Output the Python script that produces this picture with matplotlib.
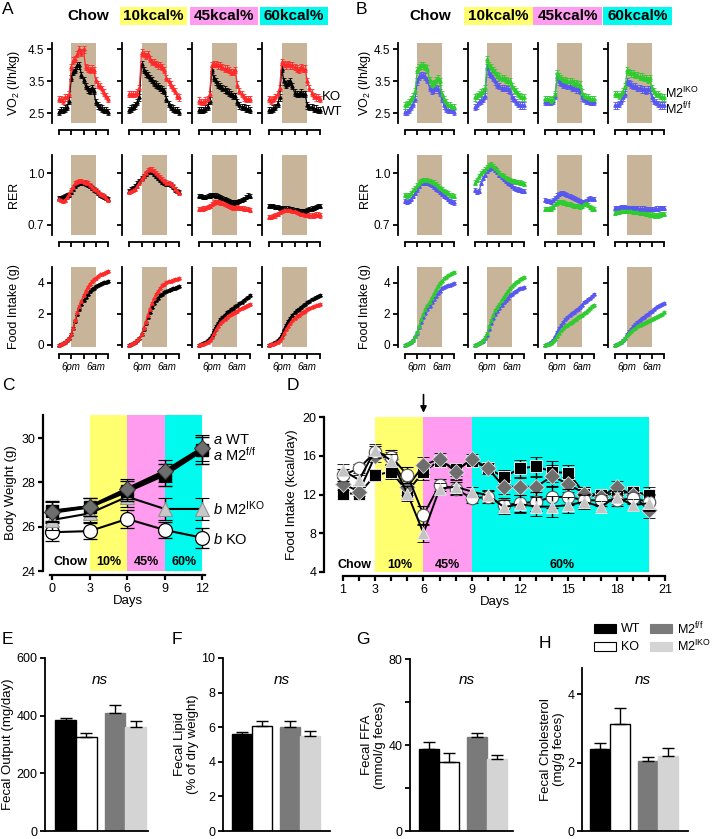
import matplotlib
matplotlib.use('Agg')
import matplotlib.pyplot as plt
from matplotlib.patches import Rectangle
from matplotlib.ticker import FixedLocator

plt.rcParams['font.family'] = ['Liberation Sans', 'DejaVu Sans']
plt.rcParams['mathtext.fontset'] = 'custom'
plt.rcParams['mathtext.rm'] = 'Liberation Sans'
plt.rcParams['mathtext.it'] = 'Liberation Sans:italic'

# ---------------- data ----------------
HOURS = list(range(12, 37))           # 12pm .. 12pm next day
DIETS = ['Chow', '10kcal%', '45kcal%', '60kcal%']
DIET_SHORT = ['Chow', '10%', '45%', '60%']

# Panel A : WT (black) vs KO (red)
A_VO2_KO = [
    [2.95, 2.95, 2.9, 3.0, 3.0, 3.1, 3.95, 4.15, 4.2, 4.35, 4.5, 4.4, 4.5, 3.95, 3.9, 3.85, 3.9, 3.85, 3.55, 3.4, 3.35, 3.25, 3.15, 3.05, 2.95],
    [3.1, 3.1, 3.1, 3.1, 3.15, 3.3, 4.4, 4.35, 4.3, 4.35, 4.2, 4.1, 4.1, 4.05, 4.0, 4.0, 3.95, 3.85, 3.6, 3.5, 3.4, 3.3, 3.2, 3.05, 3.0],
    [2.9, 2.85, 2.85, 2.9, 2.95, 3.1, 4.0, 4.05, 4.05, 4.0, 4.0, 3.95, 3.9, 3.9, 3.85, 3.8, 3.8, 3.85, 3.4, 3.2, 3.1, 3.0, 2.95, 2.95, 2.95],
    [2.95, 2.9, 2.95, 3.0, 3.1, 3.3, 4.1, 4.05, 4.0, 4.05, 4.0, 4.0, 3.95, 3.9, 3.85, 3.95, 3.9, 3.9, 3.5, 3.3, 3.15, 3.05, 3.0, 3.0, 2.95],
]
A_VO2_WT = [
    [2.55, 2.6, 2.6, 2.65, 2.7, 2.9, 3.6, 3.8, 3.85, 4.0, 4.0, 3.7, 3.55, 3.35, 3.25, 3.2, 3.3, 3.2, 2.85, 2.75, 2.7, 2.65, 2.6, 2.6, 2.55],
    [2.6, 2.65, 2.7, 2.75, 2.85, 3.0, 4.05, 3.85, 3.75, 3.7, 3.6, 3.55, 3.45, 3.4, 3.35, 3.3, 3.25, 3.2, 2.95, 2.8, 2.7, 2.65, 2.6, 2.6, 2.55],
    [2.6, 2.6, 2.6, 2.65, 2.7, 2.9, 3.85, 3.6, 3.5, 3.4, 3.35, 3.3, 3.25, 3.2, 3.15, 3.1, 3.05, 3.05, 2.85, 2.75, 2.7, 2.7, 2.65, 2.65, 2.6],
    [2.6, 2.6, 2.65, 2.7, 2.8, 3.0, 3.9, 3.5, 3.4, 3.45, 3.5, 3.35, 3.15, 3.1, 3.1, 3.15, 3.1, 3.1, 2.75, 2.7, 2.7, 2.65, 2.65, 2.6, 2.6],
]
A_RER_KO = [
    [0.85, 0.845, 0.84, 0.845, 0.86, 0.88, 0.90, 0.92, 0.94, 0.95, 0.955, 0.955, 0.95, 0.945, 0.94, 0.93, 0.92, 0.91, 0.90, 0.89, 0.88, 0.875, 0.865, 0.855, 0.845],
    [0.89, 0.895, 0.90, 0.91, 0.925, 0.945, 0.965, 0.985, 1.0, 1.015, 1.025, 1.02, 1.01, 1.0, 0.99, 0.975, 0.965, 0.955, 0.945, 0.94, 0.935, 0.925, 0.91, 0.895, 0.885],
    [0.79, 0.79, 0.795, 0.80, 0.805, 0.81, 0.82, 0.83, 0.835, 0.835, 0.83, 0.825, 0.82, 0.815, 0.81, 0.805, 0.80, 0.80, 0.805, 0.80, 0.80, 0.795, 0.79, 0.79, 0.785],
    [0.745, 0.745, 0.75, 0.755, 0.765, 0.775, 0.78, 0.785, 0.785, 0.785, 0.785, 0.78, 0.78, 0.775, 0.77, 0.765, 0.765, 0.76, 0.76, 0.755, 0.755, 0.755, 0.76, 0.76, 0.755],
]
A_RER_WT = [
    [0.855, 0.855, 0.86, 0.865, 0.87, 0.875, 0.89, 0.91, 0.925, 0.935, 0.94, 0.94, 0.94, 0.935, 0.93, 0.925, 0.915, 0.905, 0.895, 0.885, 0.875, 0.87, 0.86, 0.855, 0.85],
    [0.895, 0.905, 0.915, 0.925, 0.94, 0.955, 0.97, 0.985, 0.995, 1.005, 1.01, 1.005, 0.995, 0.985, 0.97, 0.96, 0.95, 0.94, 0.935, 0.935, 0.93, 0.92, 0.905, 0.895, 0.89],
    [0.865, 0.865, 0.86, 0.86, 0.865, 0.87, 0.875, 0.875, 0.87, 0.865, 0.86, 0.855, 0.85, 0.845, 0.84, 0.835, 0.83, 0.83, 0.835, 0.84, 0.845, 0.85, 0.86, 0.87, 0.865],
    [0.81, 0.81, 0.81, 0.805, 0.805, 0.80, 0.80, 0.80, 0.795, 0.795, 0.79, 0.79, 0.785, 0.785, 0.78, 0.78, 0.78, 0.78, 0.785, 0.79, 0.795, 0.80, 0.805, 0.81, 0.81],
]
A_FI_KO = [
    [0, 0.05, 0.1, 0.2, 0.3, 0.45, 0.7, 1.1, 1.6, 2.1, 2.5, 2.85, 3.2, 3.5, 3.75, 3.95, 4.1, 4.25, 4.35, 4.45, 4.55, 4.6, 4.65, 4.7, 4.75],
    [0, 0.05, 0.1, 0.2, 0.3, 0.45, 0.7, 1.1, 1.5, 1.95, 2.35, 2.7, 3.0, 3.3, 3.5, 3.7, 3.85, 3.95, 4.05, 4.1, 4.15, 4.2, 4.25, 4.28, 4.3],
    [0, 0.04, 0.08, 0.15, 0.22, 0.32, 0.5, 0.75, 1.0, 1.2, 1.4, 1.55, 1.7, 1.82, 1.92, 2.0, 2.08, 2.15, 2.22, 2.3, 2.38, 2.45, 2.52, 2.6, 2.65],
    [0, 0.04, 0.08, 0.15, 0.22, 0.32, 0.5, 0.75, 1.0, 1.25, 1.45, 1.6, 1.75, 1.85, 1.95, 2.05, 2.15, 2.22, 2.3, 2.37, 2.43, 2.5, 2.55, 2.6, 2.65],
]
A_FI_WT = [
    [0, 0.05, 0.1, 0.2, 0.3, 0.45, 0.7, 1.1, 1.55, 2.0, 2.35, 2.65, 2.9, 3.1, 3.3, 3.45, 3.6, 3.7, 3.8, 3.85, 3.95, 4.0, 4.05, 4.05, 4.1],
    [0, 0.05, 0.1, 0.2, 0.3, 0.45, 0.7, 1.05, 1.4, 1.8, 2.15, 2.45, 2.7, 2.9, 3.05, 3.2, 3.3, 3.4, 3.5, 3.55, 3.6, 3.65, 3.7, 3.75, 3.8],
    [0, 0.05, 0.12, 0.2, 0.3, 0.45, 0.65, 0.95, 1.2, 1.45, 1.65, 1.8, 1.95, 2.1, 2.2, 2.3, 2.4, 2.5, 2.6, 2.7, 2.8, 2.9, 3.0, 3.1, 3.2],
    [0, 0.05, 0.1, 0.2, 0.3, 0.45, 0.7, 1.0, 1.3, 1.55, 1.75, 1.95, 2.1, 2.25, 2.35, 2.45, 2.55, 2.65, 2.75, 2.85, 2.95, 3.0, 3.1, 3.15, 3.2],
]

# Panel B : M2f/f (blue) vs M2IKO (green)
B_VO2_IKO = [
    [2.75, 2.8, 2.85, 2.95, 3.05, 3.2, 3.85, 3.95, 4.0, 4.0, 3.95, 3.9, 3.55, 3.4, 3.45, 3.55, 3.6, 3.5, 3.1, 2.95, 2.85, 2.75, 2.75, 2.7, 2.7],
    [3.0, 3.05, 3.1, 3.15, 3.2, 3.3, 4.2, 4.0, 3.95, 3.85, 3.8, 3.7, 3.65, 3.6, 3.6, 3.55, 3.5, 3.5, 3.35, 3.25, 3.2, 3.1, 3.05, 3.0, 3.0],
    [2.95, 2.95, 2.95, 2.9, 2.95, 3.1, 3.75, 3.65, 3.6, 3.55, 3.55, 3.5, 3.5, 3.5, 3.45, 3.45, 3.4, 3.4, 3.15, 3.05, 3.0, 3.0, 2.95, 2.95, 2.95],
    [3.1, 3.1, 3.05, 3.1, 3.2, 3.35, 3.85, 3.8, 3.75, 3.75, 3.7, 3.7, 3.65, 3.65, 3.6, 3.6, 3.55, 3.6, 3.3, 3.2, 3.1, 3.1, 3.05, 3.0, 3.0],
]
B_VO2_FF = [
    [2.55, 2.55, 2.6, 2.7, 2.8, 2.95, 3.5, 3.65, 3.7, 3.7, 3.65, 3.55, 3.3, 3.2, 3.25, 3.3, 3.25, 3.15, 2.95, 2.75, 2.65, 2.6, 2.6, 2.6, 2.55],
    [2.7, 2.75, 2.85, 2.9, 2.95, 3.05, 3.95, 3.75, 3.7, 3.6, 3.5, 3.4, 3.35, 3.3, 3.3, 3.3, 3.25, 3.2, 3.0, 2.95, 2.85, 2.8, 2.75, 2.75, 2.75],
    [2.85, 2.85, 2.85, 2.85, 2.9, 3.05, 3.65, 3.5, 3.45, 3.4, 3.4, 3.35, 3.35, 3.3, 3.3, 3.25, 3.25, 3.2, 3.0, 2.95, 2.9, 2.9, 2.85, 2.85, 2.85],
    [2.75, 2.75, 2.8, 2.9, 3.0, 3.1, 3.5, 3.45, 3.4, 3.35, 3.35, 3.3, 3.3, 3.25, 3.25, 3.2, 3.25, 3.25, 3.0, 2.9, 2.85, 2.8, 2.75, 2.75, 2.75],
]
B_RER_IKO = [
    [0.875, 0.87, 0.875, 0.885, 0.9, 0.915, 0.93, 0.945, 0.955, 0.96, 0.96, 0.96, 0.955, 0.95, 0.945, 0.935, 0.925, 0.915, 0.905, 0.895, 0.89, 0.885, 0.875, 0.87, 0.865],
    [0.945, 0.96, 0.98, 1.0, 1.01, 1.02, 1.035, 1.045, 1.05, 1.04, 1.03, 1.015, 1.0, 0.99, 0.98, 0.97, 0.965, 0.96, 0.955, 0.955, 0.95, 0.95, 0.945, 0.94, 0.935],
    [0.79, 0.79, 0.79, 0.795, 0.805, 0.82, 0.83, 0.835, 0.835, 0.83, 0.825, 0.82, 0.82, 0.815, 0.81, 0.81, 0.81, 0.805, 0.81, 0.82, 0.825, 0.815, 0.805, 0.795, 0.79],
    [0.77, 0.775, 0.775, 0.78, 0.78, 0.78, 0.78, 0.78, 0.78, 0.775, 0.775, 0.775, 0.77, 0.77, 0.77, 0.765, 0.765, 0.76, 0.76, 0.755, 0.755, 0.755, 0.76, 0.765, 0.765],
]
B_RER_FF = [
    [0.84, 0.835, 0.84, 0.85, 0.865, 0.885, 0.905, 0.925, 0.94, 0.945, 0.945, 0.94, 0.935, 0.93, 0.92, 0.91, 0.9, 0.89, 0.88, 0.87, 0.86, 0.85, 0.84, 0.835, 0.83],
    [0.9, 0.89, 0.895, 0.94, 0.97, 0.99, 1.01, 1.025, 1.03, 1.03, 1.02, 1.005, 0.99, 0.975, 0.965, 0.955, 0.945, 0.935, 0.925, 0.915, 0.91, 0.905, 0.9, 0.895, 0.895],
    [0.845, 0.84, 0.84, 0.835, 0.845, 0.855, 0.87, 0.88, 0.885, 0.885, 0.88, 0.875, 0.865, 0.86, 0.855, 0.85, 0.845, 0.84, 0.835, 0.835, 0.84, 0.85, 0.855, 0.85, 0.85],
    [0.80, 0.80, 0.80, 0.805, 0.805, 0.805, 0.80, 0.80, 0.80, 0.80, 0.80, 0.80, 0.795, 0.795, 0.795, 0.79, 0.79, 0.79, 0.79, 0.79, 0.795, 0.795, 0.80, 0.80, 0.80],
]
B_FI_IKO = [
    [0, 0.05, 0.1, 0.2, 0.35, 0.55, 0.85, 1.25, 1.65, 2.0, 2.3, 2.55, 2.8, 3.05, 3.3, 3.55, 3.8, 4.0, 4.15, 4.3, 4.4, 4.5, 4.55, 4.62, 4.68],
    [0, 0.05, 0.1, 0.2, 0.32, 0.5, 0.75, 1.2, 1.6, 1.95, 2.25, 2.45, 2.65, 2.9, 3.1, 3.3, 3.5, 3.65, 3.8, 3.95, 4.05, 4.15, 4.25, 4.3, 4.38],
    [0, 0.04, 0.08, 0.15, 0.25, 0.38, 0.6, 0.8, 0.95, 1.1, 1.2, 1.3, 1.4, 1.5, 1.6, 1.7, 1.78, 1.85, 1.95, 2.05, 2.15, 2.25, 2.4, 2.5, 2.6],
    [0, 0.04, 0.1, 0.18, 0.3, 0.45, 0.65, 0.8, 0.92, 1.02, 1.12, 1.2, 1.28, 1.35, 1.42, 1.5, 1.55, 1.6, 1.68, 1.75, 1.82, 1.9, 1.96, 2.02, 2.1],
]
B_FI_FF = [
    [0, 0.05, 0.1, 0.2, 0.35, 0.55, 0.8, 1.15, 1.5, 1.8, 2.05, 2.3, 2.5, 2.75, 2.95, 3.15, 3.35, 3.5, 3.65, 3.75, 3.8, 3.85, 3.9, 3.95, 3.98],
    [0, 0.05, 0.1, 0.18, 0.28, 0.42, 0.65, 1.0, 1.4, 1.75, 2.0, 2.2, 2.4, 2.6, 2.75, 2.9, 3.05, 3.2, 3.3, 3.4, 3.5, 3.58, 3.65, 3.7, 3.75],
    [0, 0.05, 0.1, 0.2, 0.35, 0.55, 0.85, 1.1, 1.3, 1.5, 1.65, 1.8, 1.95, 2.05, 2.15, 2.25, 2.35, 2.45, 2.6, 2.75, 2.85, 2.95, 3.05, 3.15, 3.3],
    [0, 0.04, 0.1, 0.18, 0.3, 0.45, 0.7, 0.9, 1.05, 1.2, 1.35, 1.5, 1.62, 1.72, 1.82, 1.92, 2.02, 2.12, 2.22, 2.32, 2.42, 2.5, 2.58, 2.65, 2.7],
]
SEM_VO2 = 0.1
SEM_RER = 0.012
SEM_FI = 0.06

# Panel C : body weight
C_DAYS = [0, 3, 6, 9, 12]
C_WT = [26.7, 26.9, 27.6, 28.35, 29.45]
C_FF = [26.65, 26.9, 27.7, 28.5, 29.55]
C_IKO = [26.3, 26.6, 27.35, 26.8, 26.8]
C_KO = [25.75, 25.8, 26.35, 25.85, 25.5]
C_WT_ERR = [0.45, 0.4, 0.45, 0.5, 0.6]
C_FF_ERR = [0.45, 0.4, 0.45, 0.5, 0.6]
C_IKO_ERR = [0.45, 0.4, 0.45, 0.5, 0.5]
C_KO_ERR = [0.4, 0.35, 0.4, 0.35, 0.45]

# Panel D : daily food intake
D_DAYS = list(range(1, 21))
D_WT = [12.1, 12.1, 14.0, 14.35, 12.3, 14.35, 15.5, 14.6, 15.5, 14.7, 13.8, 14.7, 14.9, 14.35, 14.2, 12.1, 11.95, 12.1, 12.3, 11.95]
D_FF = [13.1, 12.3, 16.0, 15.7, 12.8, 15.0, 15.7, 14.35, 15.7, 14.7, 12.8, 12.8, 12.8, 13.9, 13.05, 12.1, 11.7, 12.8, 11.9, 10.4]
D_KO = [14.0, 14.7, 16.4, 15.9, 14.0, 9.9, 13.0, 12.6, 11.6, 11.75, 10.9, 11.1, 11.25, 11.75, 11.75, 11.4, 11.4, 11.4, 11.6, 11.25]
D_IKO = [14.5, 13.5, 16.6, 15.5, 12.1, 8.0, 12.6, 12.8, 12.3, 11.9, 10.7, 11.0, 10.75, 10.75, 10.9, 11.25, 10.75, 11.75, 10.9, 11.1]
D_ERR = [0.6, 0.5, 0.6, 0.7, 0.8, 0.9, 0.6, 0.7, 0.5, 0.6, 0.7, 0.9, 1.0, 1.1, 0.8, 0.7, 0.6, 0.6, 0.6, 0.8]

# Panels E-H : fecal measures (WT, KO, M2f/f, M2IKO)
GROUPS = ['WT', 'KO', 'M2$^{\\mathrm{f/f}}$', 'M2$^{\\mathrm{IKO}}$']
E_VAL = [385, 325, 408, 362]
E_ERR = [6, 16, 30, 18]
F_VAL = [5.6, 6.05, 6.0, 5.5]
F_ERR = [0.15, 0.28, 0.33, 0.3]
G_VAL = [38, 32, 43.5, 33.5]
G_ERR = [3.5, 4.5, 2.0, 2.0]
H_VAL = [2.4, 3.12, 2.05, 2.2]
H_ERR = [0.18, 0.47, 0.13, 0.22]

# ---------------- style ----------------
TAN = '#c8b498'
RED = '#ff2a2a'
GREEN = '#2ecc2e'
BLUE = '#5858f0'
YELLOW = '#ffff70'
PINK = '#ff9cf0'
CYAN = '#00fbee'
DIET_COLORS = [None, YELLOW, PINK, CYAN]
BAR_COLORS = ['black', 'white', '#7a7a7a', '#d4d4d4']
BAR_EDGES = ['black', 'black', '#7a7a7a', '#d4d4d4']

W, H = 713, 839
fig = plt.figure(figsize=(W / 100, H / 100), dpi=100)


def add_ax(x0, y0, x1, y1):
    return fig.add_axes([x0 / W, 1 - y1 / H, (x1 - x0) / W, (y1 - y0) / H])


def ftext(x, y, s, **kw):
    return fig.text(x / W, 1 - y / H, s, **kw)


def style_ax(ax, off_left=0, off_bottom=0, lw=1.3):
    for s in ('top', 'right'):
        ax.spines[s].set_visible(False)
    for s in ('left', 'bottom'):
        ax.spines[s].set_linewidth(lw)
    ax.spines['left'].set_position(('outward', off_left))
    ax.spines['bottom'].set_position(('outward', off_bottom))
    ax.tick_params(direction='out', length=3.5, width=lw, labelsize=8.5, pad=2)
    ax.patch.set_alpha(0)


# ---------------- panels A & B ----------------
ROWS = [  # (data top, data bottom) in pixels, ylim, yticks
    (43, 123, (2.2, 4.70), [2.5, 3.5, 4.5], ['2.5', '3.5', '4.5'], SEM_VO2),
    (155, 235, (0.642, 1.104), [0.7, 1.0], ['0.7', '1.0'], SEM_RER),
    (267, 347, (-0.13, 5.03), [0, 2, 4], ['0', '2', '4'], SEM_FI),
]
A_X = [(59, 108), (129, 179), (199, 250), (269, 320)]
B_X = [(405, 454), (475, 524), (545, 594), (615, 664)]

A_DATA = [(A_VO2_KO, A_VO2_WT), (A_RER_KO, A_RER_WT), (A_FI_KO, A_FI_WT)]
B_DATA = [(B_VO2_IKO, B_VO2_FF), (B_RER_IKO, B_RER_FF), (B_FI_IKO, B_FI_FF)]

for xs, data, (c_top, c_bot) in ((A_X, A_DATA, (RED, 'black')), (B_X, B_DATA, (GREEN, BLUE))):
    for r, (yt, yb, ylim, yticks, ylabs, sem) in enumerate(ROWS):
        top_series, bot_series = data[r]
        for k, (x0, x1) in enumerate(xs):
            ax = add_ax(x0, yt, x1, yb)
            style_ax(ax, off_left=5, off_bottom=5)
            ax.axvspan(18, 30, color=TAN, lw=0, zorder=0)
            for ys, col in ((bot_series[k], c_bot), (top_series[k], c_top)):
                ax.errorbar(HOURS, ys, yerr=sem, color=col, lw=0.9, marker='^', ms=2.3,
                            elinewidth=0.6, capsize=1.3, capthick=0.6, zorder=3, clip_on=False)
            ax.set_xlim(12, 36)
            ax.set_ylim(*ylim)
            ax.set_xticks([12, 18, 24, 30, 36])
            if r == 2:
                ax.set_xticklabels(['', '6pm', '', '6am', ''], fontsize=7, style='italic')
            else:
                ax.set_xticklabels([])
            ax.set_yticks(yticks)
            if k == 0:
                ax.set_yticklabels(ylabs)
            else:
                ax.set_yticklabels([])

# row labels
for xl in (14, 365):
    ftext(xl, 83, 'VO$_2$ (l/h/kg)', rotation=90, ha='center', va='center', fontsize=9)
    ftext(xl, 195, 'RER', rotation=90, ha='center', va='center', fontsize=9)
    ftext(xl, 307, 'Food Intake (g)', rotation=90, ha='center', va='center', fontsize=9)

ftext(322, 97, 'KO', fontsize=9.5, va='center')
ftext(322, 112, 'WT', fontsize=9.5, va='center')
ftext(665, 93, 'M2$^{\\mathrm{IKO}}$', fontsize=9, va='center')
ftext(665, 109, 'M2$^{\\mathrm{f/f}}$', fontsize=9, va='center')

# diet headers
HEAD_A = [(88, None), (120, 187), (190, 258), (260, 328)]
HEAD_B = [(430, None), (464, 533), (533, 602), (603, 672)]
for heads in (HEAD_A, HEAD_B):
    for (a, b), name, col in zip(heads, DIETS, DIET_COLORS):
        if b is None:
            ftext(a, 16, name, ha='center', va='center', fontsize=11, fontweight='bold')
        else:
            fig.add_artist(Rectangle((a / W, 1 - 25 / H), (b - a) / W, 18 / H,
                                     transform=fig.transFigure, color=col, lw=0))
            ftext((a + b) / 2, 16, name, ha='center', va='center', fontsize=11, fontweight='bold')

# panel letters
for x, y, s in ((2, 10, 'A'), (356, 10, 'B'), (2, 385, 'C'), (287, 385, 'D'),
                (2, 640, 'E'), (172, 640, 'F'), (356, 640, 'G'), (539, 643, 'H')):
    ftext(x, y, s, fontsize=12.5, va='center', ha='left')

# ---------------- panel C ----------------
axC = add_ax(50, 415, 205, 571)
style_ax(axC, off_left=5, off_bottom=3, lw=1.6)
for (a, b), col in zip([(3, 6), (6, 9), (9, 12)], DIET_COLORS[1:]):
    axC.axvspan(a, b, color=col, lw=0, zorder=0)
axC.errorbar(C_DAYS, C_KO, yerr=C_KO_ERR, color='black', lw=1.5, marker='o', ms=10,
             mfc='white', mec='black', mew=0.9, capsize=5, elinewidth=1, capthick=1, zorder=3, clip_on=False)
axC.errorbar(C_DAYS, C_IKO, yerr=C_IKO_ERR, color='black', lw=1.5, marker='^', ms=10,
             mfc='#c8c8c8', mec='#909090', mew=0.8, capsize=5, elinewidth=1, capthick=1, zorder=4, clip_on=False)
axC.errorbar(C_DAYS, C_WT, yerr=C_WT_ERR, color='black', lw=2.4, marker='s', ms=8,
             mfc='black', mec='black', capsize=5, elinewidth=1, capthick=1, zorder=5, clip_on=False)
axC.errorbar(C_DAYS, C_FF, yerr=C_FF_ERR, color='black', lw=2.4, marker='D', ms=8.5,
             mfc='#6e6e6e', mec='#333333', mew=0.8, capsize=5, elinewidth=1, capthick=1, zorder=6, clip_on=False)
axC.set_xlim(-0.15, 12.2)
axC.set_ylim(24, 31.04)
axC.set_xticks([0, 3, 6, 9, 12])
axC.set_yticks([24, 26, 28, 30])
axC.tick_params(labelsize=9)
axC.set_xlabel('Days', fontsize=9.5, labelpad=0)
axC.set_ylabel('Body Weight (g)', fontsize=9.5, labelpad=3)
for x, s in zip([1.5, 4.5, 7.5, 10.5], DIET_SHORT):
    axC.text(x, 24.4, s, ha='center', va='center', fontsize=9, fontweight='bold')
ftext(213, 440, '$\\mathit{a}$ WT', fontsize=10.5, va='center')
ftext(213, 455, '$\\mathit{a}$ M2$^{\\mathrm{f/f}}$', fontsize=10.5, va='center')
ftext(213, 509, '$\\mathit{b}$ M2$^{\\mathrm{IKO}}$', fontsize=10.5, va='center')
ftext(213, 540, '$\\mathit{b}$ KO', fontsize=10.5, va='center')

# ---------------- panel D ----------------
axD = add_ax(324, 417, 665, 572)
style_ax(axD, off_left=0, off_bottom=3, lw=1.6)
for (a, b), col in zip([(3, 6), (6, 9), (9, 20)], DIET_COLORS[1:]):
    axD.axvspan(a, b, color=col, lw=0, zorder=0)
common = dict(color='black', lw=1.4, capsize=4, elinewidth=1, capthick=1, clip_on=False)
axD.errorbar(D_DAYS, D_WT, yerr=D_ERR, marker='s', ms=8, mfc='black', mec='white', mew=0.6, zorder=3, **common)
axD.errorbar(D_DAYS, D_FF, yerr=D_ERR, marker='D', ms=8, mfc='#6e6e6e', mec='#dddddd', mew=0.6, zorder=4, **common)
axD.errorbar(D_DAYS, D_KO, yerr=D_ERR, marker='o', ms=9, mfc='white', mec='#555555', mew=0.8, zorder=5, **common)
axD.errorbar(D_DAYS, D_IKO, yerr=D_ERR, marker='^', ms=9, mfc='#c4c4c4', mec='#eeeeee', mew=0.6, zorder=6, **common)
axD.set_xlim(-0.18, 21)
axD.set_ylim(4, 20)
axD.spines['bottom'].set_bounds(1, 21)
axD.set_xticks([1, 3, 6, 9, 12, 15, 18, 21])
axD.xaxis.set_minor_locator(FixedLocator(list(range(1, 22))))
axD.tick_params(which='minor', direction='out', length=3.5, width=1.6)
axD.set_yticks([4, 8, 12, 16, 20])
axD.tick_params(labelsize=9)
axD.set_xlabel('Days', fontsize=9.5, labelpad=0)
axD.set_ylabel('Food Intake (kcal/day)', fontsize=9.5, labelpad=3)
for x, s in zip([1.7, 4.5, 7.5, 14.6], DIET_SHORT):
    axD.text(x, 4.75, s, ha='center', va='center', fontsize=9, fontweight='bold')
axD.annotate('', xy=(6, 20.15), xytext=(6, 22.6), annotation_clip=False,
             arrowprops=dict(arrowstyle='-|>', color='black', lw=1.2, mutation_scale=9))

# ---------------- panels E-H ----------------
BAR_X = [0, 1, 2.4, 3.4]
BAR_PANELS = [
    ((45, 658, 148, 831), (-1.0, 4.0), (0, 600), [0, 200, 400, 600], ['0', '200', '400', '600'],
     E_VAL, E_ERR, 'Fecal Output (mg/day)', (100, 680)),
    ((223, 658, 330, 831), (-0.95, 4.4), (0, 10), [0, 2, 4, 6, 8, 10], ['0', '2', '4', '6', '8', '10'],
     F_VAL, F_ERR, 'Fecal Lipid\n(% of dry weight)', (282, 680)),
    ((410, 659, 513, 831), (-0.95, 4.2), (0, 80), [0, 20, 40, 60, 80], ['0', '', '40', '', '80'],
     G_VAL, G_ERR, 'Fecal FFA\n(mmol/g feces)', (467, 680)),
    ((582, 668, 688, 831), (-0.9, 4.4), (0, 4.77), [0, 2, 4], ['0', '2', '4'],
     H_VAL, H_ERR, 'Fecal Cholesterol\n(mg/g feces)', (643, 680)),
]
for (x0, y0, x1, y1), xl, yl, yt, ytl, vals, errs, lab, nspos in BAR_PANELS:
    ax = add_ax(x0, y0, x1, y1)
    style_ax(ax, lw=1.3)
    ax.bar(BAR_X, vals, width=1.0, color=BAR_COLORS, edgecolor=BAR_EDGES, linewidth=1.0, zorder=2)
    ax.errorbar(BAR_X, vals, yerr=[[0] * 4, errs], fmt='none', ecolor='black', elinewidth=1,
                capsize=4, capthick=1, zorder=3)
    ax.set_xlim(*xl)
    ax.set_ylim(*yl)
    ax.set_xticks([])
    ax.set_yticks(yt)
    ax.set_yticklabels(ytl)
    ax.tick_params(labelsize=9)
    ax.set_ylabel(lab, fontsize=9.5, labelpad=2, linespacing=1.1)
    ftext(nspos[0], nspos[1], 'ns', ha='center', va='center', fontsize=11, style='italic')

# legend for E-H
LEG = [((594, 624), 0), ((650, 624), 2), ((594, 642), 1), ((650, 642), 3)]
for (lx, ly), gi in LEG:
    fig.add_artist(Rectangle((lx / W, 1 - (ly + 9) / H), 22 / W, 9 / H, transform=fig.transFigure,
                             facecolor=BAR_COLORS[gi], edgecolor='black' if gi < 2 else BAR_COLORS[gi], lw=0.8))
    ftext(lx + 27, ly + 4.5, GROUPS[gi], fontsize=9, va='center')

fig.savefig('out.png', dpi=100)
